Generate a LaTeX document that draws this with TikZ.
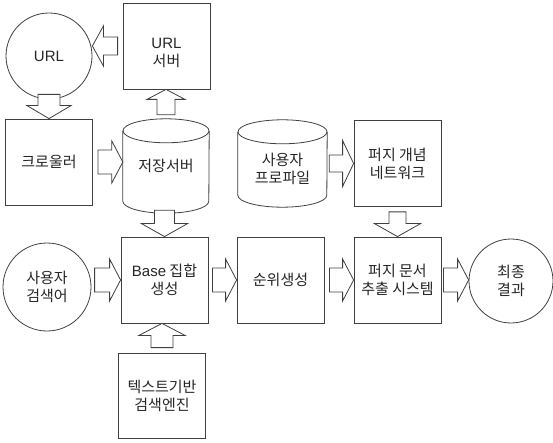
\documentclass[tikz,border=0pt]{standalone}
\usepackage{fontspec}
\setmainfont{Noto Sans CJK KR}
\newfontfamily\lat{Liberation Sans}
\usetikzlibrary{calc}
\newcommand\lbl{\fontsize{15pt}{18pt}\selectfont}
\tikzset{
  ln/.style={draw=black!75, line width=0.8pt},
  boxn/.style={ln, rectangle, minimum width=87pt, minimum height=86pt, inner sep=0pt, align=center, font=\lbl, text=black!85},
  circn/.style={ln, circle, minimum size=86pt, inner sep=0pt, align=center, font=\lbl, text=black!85},
  cylb/.style={rectangle, inner sep=0pt, align=center, font=\lbl, text=black!85},
  lowtext/.style={label={[inner sep=0pt, align=center, font=\lbl, text=black!85, yshift=-#1]center:\nodetxt}},
  blk/.style={ln, fill=white, line join=miter},
}
% block arrow: #1 start, #2 tip, #3 half head width, #4 half shaft width, #5 head length
\newcommand\barrow[5]{%
  \path #1 coordinate (bS) #2 coordinate (bE);
  \path ($(bE)!#5!(bS)$) coordinate (bN);
  \draw[blk] ($(bS)!#4!90:(bE)$) -- ($(bN)!#4!90:(bE)$) -- ($(bN)!#3!90:(bE)$) -- (bE)
    -- ($(bN)!#3!-90:(bE)$) -- ($(bN)!#4!-90:(bE)$) -- ($(bS)!#4!-90:(bE)$) -- cycle;
}
% cylinder outline around a node: #1 node, #2 ellipse y radius (number), #3 x radius
\newcommand\cylout[3]{%
  \draw[ln] ($(#1.north west)+(0,#2)$) -- ($(#1.south west)+(0,-#2)$)
    arc[start angle=180, end angle=360, x radius=#3, y radius=#2pt]
    -- ($(#1.north east)+(0,#2)$);
  \draw[ln] ($(#1.north)+(0,#2)$) ellipse[x radius=#3, y radius=#2pt];
}
\begin{document}
\begin{tikzpicture}[x=1pt,y=-1pt]
\useasboundingbox[fill=white] (0,0) rectangle (553,443);

% nodes
\node[circn] (url) at (49,56) {{\lat URL}};
\node[boxn, minimum height=86pt] (urlsrv) at (166.5,46) {};
\node[inner sep=0pt, align=center, font=\lbl, text=black!85] (urlsrvt) at ($(urlsrv.center)+(0,7)$) {{\lat URL}\\서버};
\node[boxn] (craw) at (49,162) {크로울러};
\node[cylb, minimum width=86pt, minimum height=94pt] (store) at (166,166) {저장서버};
\node[cylb, minimum width=89pt, minimum height=87pt] (prof) at (282.5,163.5) {};
\node[inner sep=0pt, align=center, font=\lbl, text=black!85] (proft) at ($(prof.center)+(0,5)$) {사용자\\프로파일};
\node[boxn] (fnet) at (397.5,163.5) {퍼지 개념\\네트워크};
\node[circn, minimum size=88pt] (query) at (47,287) {사용자\\검색어};
\node[boxn] (base) at (164.5,280) {{\lat Base} 집합\\생성};
\node[boxn] (rank) at (280.5,280) {순위생성};
\node[boxn] (fdoc) at (397.5,280) {퍼지 문서\\추출 시스템};
\node[circn, minimum size=84pt] (final) at (511,281) {최종\\결과};
\node[boxn, minimum height=85pt] (txt) at (162,395.5) {텍스트기반\\검색엔진};

\cylout{store}{12}{43pt}
\cylout{prof}{12}{44.5pt}

% block arrows
\barrow{($(urlsrv.west)+(-5,0)$)}{(urlsrv.west -| url.east)}{20pt}{9pt}{11pt}
\barrow{($(url.south)+(0,-5)$)}{(craw.north)}{22pt}{11pt}{13pt}
\barrow{($(craw.east)+(5,0)$)}{(craw.east -| store.west)}{21pt}{12pt}{11pt}
\barrow{($(store.north)+(0,-4)$)}{(store.north |- urlsrv.south)}{19pt}{9pt}{10pt}
\barrow{($(prof.east)+(2,0)$)}{(prof.east -| fnet.west)}{23pt}{8.5pt}{11pt}
\barrow{($(fnet.south)+(0,5)$)}{(fdoc.north)}{23pt}{8.5pt}{13pt}
\barrow{($(store.south -| base.north)+(0,-3)$)}{(base.north)}{23pt}{10pt}{13pt}
\barrow{($(base.west)+(-26,0)$)}{(base.west)}{21pt}{12pt}{11pt}
\barrow{($(base.east)+(4,0)$)}{(base.east -| rank.west)}{21pt}{12pt}{11pt}
\barrow{($(rank.east)+(5,0)$)}{(rank.east -| fdoc.west)}{21pt}{12pt}{11pt}
\barrow{($(fdoc.east)+(2,0)$)}{(fdoc.east -| final.west)}{21pt}{12pt}{11pt}
\barrow{($(txt.north)+(0,-5)$)}{(txt.north |- base.south)}{23pt}{11pt}{12pt}
\end{tikzpicture}
\end{document}
